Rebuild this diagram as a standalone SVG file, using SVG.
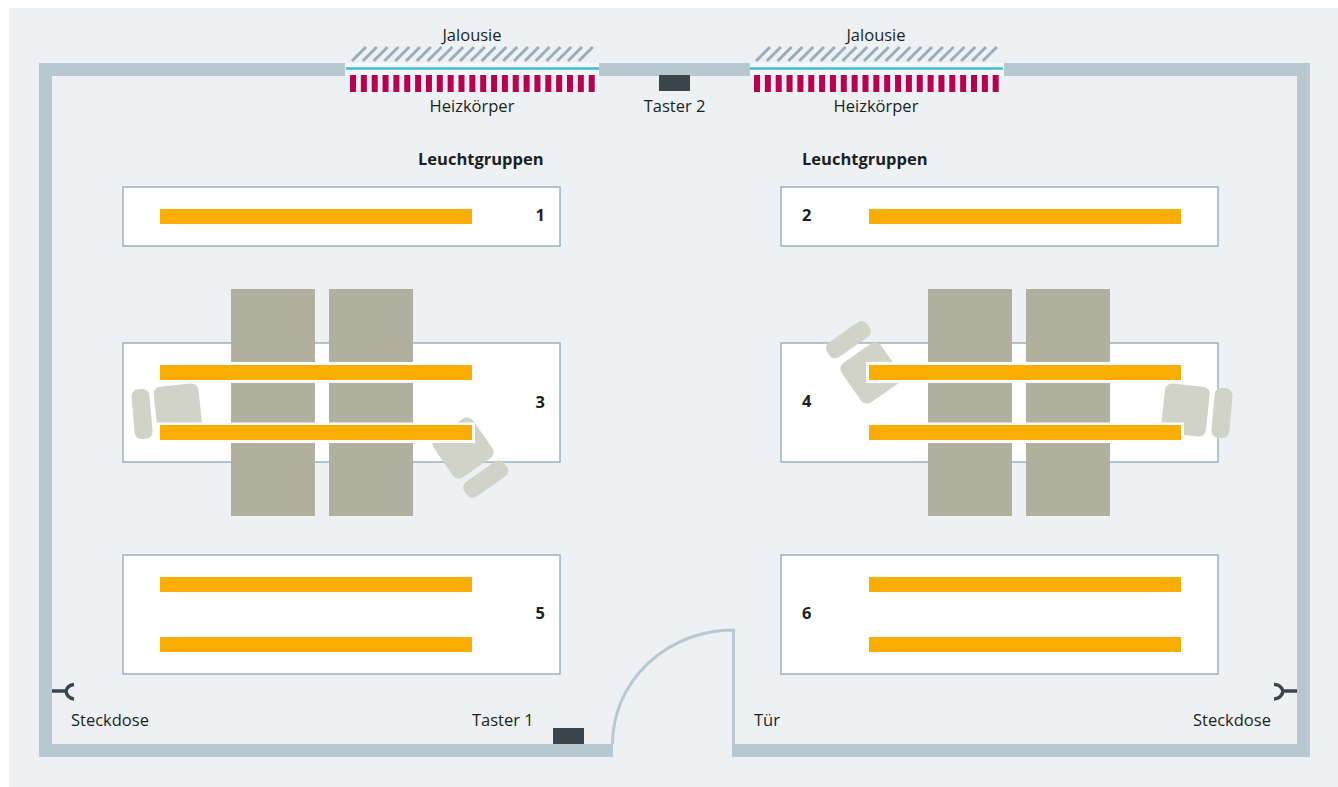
<svg xmlns="http://www.w3.org/2000/svg" xmlns:xlink="http://www.w3.org/1999/xlink" width="1338" height="787" viewBox="0 0 1338 787">
<style>
text{font-family:"Open Sans","Noto Sans","Liberation Sans",sans-serif;font-size:16.5px;fill:#1b1f22}
.b{font-weight:700}
.wall{fill:#b8c8d1}
.zone{fill:#fff;stroke:#8ea6b8;stroke-width:1.3}
.bar{fill:#f9ad00}
.halo{fill:#fff}
.desk{fill:#b1b09f}
.chair{fill:#d2d3c8}
.dark{fill:#3a464c}
.rad{fill:#b80050}
.hatch{stroke:#9aadb8;stroke-width:3;fill:none}
.sock{stroke:#3a464c;stroke-width:3.5;fill:none}
</style>
<defs>
<g id="radiator"><rect x="0" width="6" height="17" class="rad"/></g>
<g id="win">
<rect x="-4" y="63" width="253" height="13" fill="#f4f7f9"/>
<rect x="-4" y="67.3" width="253" height="2.4" fill="#3fb7d6"/>
<path class="hatch" d="M2 61L16 47M12.8 61L26.8 47M23.6 61L37.6 47M34.400 61L48.400 47M45.200 61L59.200 47M56 61L70 47M66.800 61L80.800 47M77.600 61L91.600 47M88.400 61L102.400 47M99.200 61L113.200 47M110 61L124 47M120.800 61L134.800 47M131.600 61L145.600 47M142.400 61L156.400 47M153.200 61L167.200 47M164 61L178 47M174.800 61L188.800 47M185.600 61L199.600 47M196.400 61L210.400 47M207.200 61L221.200 47M218 61L232 47M228.800 61L242.800 47"/>
<g transform="translate(0,75)">
<use xlink:href="#radiator" x="0"/><use xlink:href="#radiator" x="10.85"/><use xlink:href="#radiator" x="21.7"/><use xlink:href="#radiator" x="32.55"/><use xlink:href="#radiator" x="43.4"/><use xlink:href="#radiator" x="54.25"/><use xlink:href="#radiator" x="65.1"/><use xlink:href="#radiator" x="75.95"/><use xlink:href="#radiator" x="86.8"/><use xlink:href="#radiator" x="97.65"/><use xlink:href="#radiator" x="108.5"/><use xlink:href="#radiator" x="119.35"/><use xlink:href="#radiator" x="130.2"/><use xlink:href="#radiator" x="141.05"/><use xlink:href="#radiator" x="151.9"/><use xlink:href="#radiator" x="162.75"/><use xlink:href="#radiator" x="173.6"/><use xlink:href="#radiator" x="184.45"/><use xlink:href="#radiator" x="195.3"/><use xlink:href="#radiator" x="206.15"/><use xlink:href="#radiator" x="217"/><use xlink:href="#radiator" x="227.85"/><use xlink:href="#radiator" x="238.7"/>
</g>
</g>
</defs>
<rect width="1338" height="787" fill="#fff"/>
<rect x="9" y="8" width="1329" height="779" fill="#edf1f4"/>

<g id="walls">
<rect class="wall" x="39" y="63" width="306" height="13"/>
<rect class="wall" x="598" y="63" width="152" height="13"/>
<rect class="wall" x="1004" y="63" width="306" height="13"/>
<rect class="wall" x="39" y="63" width="13" height="694"/>
<rect class="wall" x="1297" y="63" width="13" height="694"/>
<rect class="wall" x="39" y="744" width="574" height="13"/>
<rect class="wall" x="732" y="744" width="578" height="13"/>
</g>

<g id="door"><path d="M733.500 744V630A121 114 0 0 0 612.500 744" fill="none" stroke="#b8c8d1" stroke-width="3"/></g>

<g id="window-left"><use xlink:href="#win" x="350"/></g>
<g id="window-right"><use xlink:href="#win" x="754"/></g>

<g id="zone-1"><rect class="zone" x="123" y="187" width="437" height="59"/></g>
<g id="zone-2"><rect class="zone" x="781" y="187" width="437" height="59"/></g>
<g id="zone-3"><rect class="zone" x="123" y="343" width="437" height="119"/></g>
<g id="zone-4"><rect class="zone" x="781" y="343" width="437" height="119"/></g>
<g id="zone-5"><rect class="zone" x="123" y="555" width="437" height="119"/></g>
<g id="zone-6"><rect class="zone" x="781" y="555" width="437" height="119"/></g>

<g id="desks">
<rect class="desk" x="231" y="289" width="84" height="73"/>
<rect class="desk" x="329" y="289" width="84" height="73"/>
<rect class="desk" x="231" y="383" width="84" height="40"/>
<rect class="desk" x="329" y="383" width="84" height="40"/>
<rect class="desk" x="231" y="443" width="84" height="73"/>
<rect class="desk" x="329" y="443" width="84" height="73"/>
<rect class="desk" x="928" y="289" width="84" height="73"/>
<rect class="desk" x="1026" y="289" width="84" height="73"/>
<rect class="desk" x="928" y="383" width="84" height="40"/>
<rect class="desk" x="1026" y="383" width="84" height="40"/>
<rect class="desk" x="928" y="443" width="84" height="73"/>
<rect class="desk" x="1026" y="443" width="84" height="73"/>
</g>

<g id="chairs">
<rect class="chair" x="155.500" y="385" width="45" height="50" rx="7" transform="rotate(-6 178 410)"/>
<rect class="chair" x="133" y="389" width="18" height="50" rx="7" transform="rotate(-5 142 414)"/>
<rect class="chair" x="439" y="424" width="48" height="48" rx="7" transform="rotate(-35 463 448)"/>
<rect class="chair" x="461" y="470.500" width="49" height="18" rx="7" transform="rotate(-35 485 479)"/>
<rect class="chair" x="847" y="349" width="48" height="48" rx="7" transform="rotate(-35 871 373)"/>
<rect class="chair" x="824" y="331" width="49" height="18" rx="7" transform="rotate(-35 848 340)"/>
<rect class="chair" x="1163" y="385" width="45" height="50" rx="7" transform="rotate(6 1186 410)"/>
<rect class="chair" x="1213" y="388" width="18" height="50" rx="7" transform="rotate(5 1222 413)"/>
</g>

<g id="lights">
<rect class="bar" x="160" y="209" width="312" height="15"/>
<rect class="bar" x="869" y="209" width="312" height="15"/>
<rect class="halo" x="157" y="422.500" width="318" height="20.500"/>
<rect class="halo" x="866" y="362" width="315" height="21"/>
<rect class="halo" x="869" y="422.500" width="315" height="20.500"/>
<rect class="bar" x="160" y="365" width="312" height="15"/>
<rect class="bar" x="160" y="425" width="312" height="15"/>
<rect class="bar" x="869" y="365" width="312" height="15"/>
<rect class="bar" x="869" y="425" width="312" height="15"/>
<rect class="bar" x="160" y="577" width="312" height="15"/>
<rect class="bar" x="160" y="637" width="312" height="15"/>
<rect class="bar" x="869" y="577" width="312" height="15"/>
<rect class="bar" x="869" y="637" width="312" height="15"/>
</g>

<g id="taster-1"><rect class="dark" x="553" y="728" width="31" height="16"/><text x="472" y="726">Taster 1</text></g>
<g id="taster-2"><rect class="dark" x="659" y="75" width="31" height="16"/><text x="674.500" y="112" text-anchor="middle">Taster 2</text></g>
<g id="socket-left"><path class="sock" d="M52 691H66M74 684.500A9 9 0 0 0 66 691A9 9 0 0 0 74 699"/><text x="71" y="726">Steckdose</text></g>
<g id="socket-right"><path class="sock" d="M1297 691H1283M1274 684.500A9 9 0 0 1 1283 691A9 9 0 0 1 1274 699"/><text x="1193" y="726">Steckdose</text></g>

<g id="labels">
<text x="472" y="41" text-anchor="middle">Jalousie</text>
<text x="876" y="41" text-anchor="middle">Jalousie</text>
<text x="472" y="112" text-anchor="middle">Heizkörper</text>
<text x="876" y="112" text-anchor="middle">Heizkörper</text>
<text class="b" x="418" y="165">Leuchtgruppen</text>
<text class="b" x="802" y="165">Leuchtgruppen</text>
<text x="754" y="726">Tür</text>
<text class="b" x="535.500" y="221">1</text>
<text class="b" x="802" y="221">2</text>
<text class="b" x="535.500" y="408">3</text>
<text class="b" x="802" y="407">4</text>
<text class="b" x="535.500" y="619">5</text>
<text class="b" x="802" y="619">6</text>
</g>
</svg>
